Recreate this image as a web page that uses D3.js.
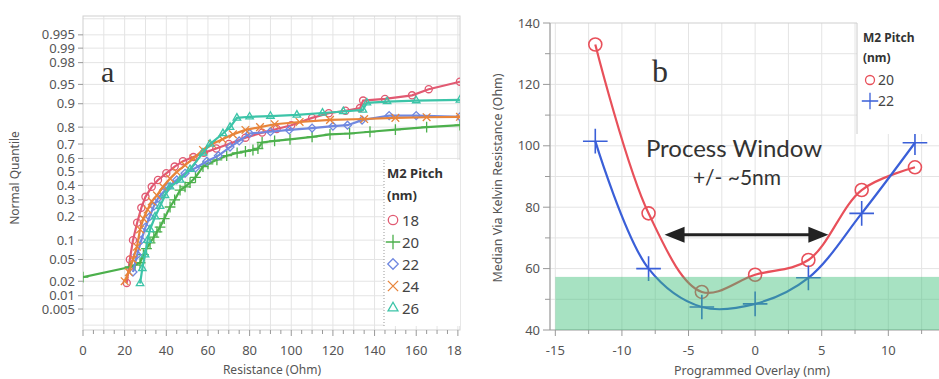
<!DOCTYPE html>
<html>
<head>
<meta charset="utf-8">
<script src="https://cdn.jsdelivr.net/npm/d3@7"></script>
<style>
body { margin: 0; background: #fff; }
svg { display: block; font-family: "Noto Sans", "Open Sans", sans-serif; }
</style>
</head>
<body>
<svg id="chart" width="939" height="379"></svg>
<script>
// ---- panel a: normal quantile plot, [resistance, quantile] ----
var pitch18 = [[21,0.0185],[22.5,0.05],[24,0.1],[26,0.17],[28,0.25],[30,0.32],[33,0.39],[36,0.44],[40,0.49],[44,0.54],[48,0.58],[53,0.61],[58,0.64],[64,0.67],[70,0.70],[78,0.74],[86,0.77],[93,0.79],[100,0.81],[110,0.845],[118,0.865],[126,0.875],[133,0.885],[134.5,0.91],[145,0.915],[158,0.925],[166,0.94],[181,0.955]];
var pitch20 = [[0,0.024],[22.6,0.037],[25,0.04],[27.4,0.044],[29,0.06],[30.5,0.075],[32.2,0.091],[34,0.11],[35.5,0.13],[37,0.15],[39,0.19],[41.8,0.255],[44,0.30],[46.6,0.366],[49,0.39],[51.4,0.42],[54,0.46],[57.6,0.54],[60,0.56],[64.3,0.59],[69,0.62],[74,0.64],[78,0.65],[81.6,0.66],[84,0.67],[86,0.71],[92,0.72],[99.4,0.73],[110,0.745],[118.6,0.76],[128,0.765],[137.8,0.775],[150,0.787],[165,0.80],[181,0.81]];
var pitch22 = [[24,0.03],[26,0.06],[28,0.1],[30,0.15],[32,0.2],[34,0.26],[36,0.31],[38.4,0.35],[41,0.39],[45,0.44],[49,0.49],[54,0.53],[59.5,0.58],[65,0.62],[70.6,0.68],[75,0.72],[80,0.765],[90,0.775],[99,0.785],[110,0.795],[120,0.805],[127,0.81],[134,0.835],[147,0.855],[160,0.855],[181,0.85]];
var pitch24 = [[20,0.02],[22,0.03],[24,0.05],[25.9,0.08],[27.4,0.14],[29,0.19],[31,0.24],[33,0.29],[35.5,0.33],[38.4,0.39],[41.8,0.45],[45,0.5],[49,0.55],[53,0.6],[57.6,0.66],[62,0.7],[67,0.73],[72,0.76],[78,0.785],[85,0.8],[92,0.815],[104,0.826],[118.6,0.836],[135,0.84],[150,0.845],[165,0.848],[181,0.85]];
var pitch26 = [[27.4,0.018],[28.5,0.035],[29.8,0.06],[31,0.1],[32.2,0.14],[34.6,0.2],[37,0.26],[39.4,0.33],[41.8,0.39],[46.6,0.44],[51.4,0.52],[57.6,0.64],[61,0.7],[67.2,0.765],[70.6,0.80],[73.9,0.845],[80,0.85],[90,0.853],[102.7,0.858],[115,0.866],[125,0.872],[134.4,0.878],[136.3,0.903],[146,0.907],[160,0.91],[181,0.912]];
var pitchNames = ["18", "20", "22", "24", "26"];
var quantileTicks = [0.005, 0.01, 0.02, 0.05, 0.1, 0.2, 0.3, 0.4, 0.5, 0.6, 0.7, 0.8, 0.9, 0.95, 0.98, 0.99, 0.995];
var resistanceTicks = [0, 20, 40, 60, 80, 100, 120, 140, 160, 180];

// ---- panel b: median via resistance vs programmed overlay ----
var overlay = [-12, -8, -4, 0, 4, 8, 12];
var res20 = [133, 78, 52.4, 58, 62.8, 85.6, 93];
var res22 = [101.5, 60, 47.5, 48.5, 57, 78, 101];
var overlayTicks = [-15, -10, -5, 0, 5, 10];
var viaTicks = [40, 60, 80, 100, 120, 140];
var windowX = [-15, 15], windowY = [40, 57.3];
var arrowX = [-6.8, 5.5], arrowY = 71;

var colorsA = ["#e15a72", "#4cb04c", "#7088e0", "#e8843a", "#3cc4a8"];
var symbolsA = [d3.symbolCircle, d3.symbolPlus, d3.symbolDiamond2, d3.symbolTimes, d3.symbolTriangle2];

// inverse normal CDF (Acklam)
function probit(p) {
    var a = [-39.6968302866538, 220.946098424521, -275.928510446969, 138.357751867269, -30.6647980661472, 2.50662827745924];
    var b = [-54.4760987982241, 161.585836858041, -155.698979859887, 66.8013118877197, -13.2806815528857];
    var c = [-0.00778489400243029, -0.322396458041136, -2.40075827716184, -2.54973253934373, 4.37466414146497, 2.93816398269878];
    var d = [0.00778469570904146, 0.32246712907004, 2.445134137143, 3.75440866190742];
    var q, r;
    if (p < 0.02425) {
        q = Math.sqrt(-2 * Math.log(p));
        return (((((c[0]*q+c[1])*q+c[2])*q+c[3])*q+c[4])*q+c[5]) / ((((d[0]*q+d[1])*q+d[2])*q+d[3])*q+1);
    } else if (p > 1 - 0.02425) {
        q = Math.sqrt(-2 * Math.log(1 - p));
        return -(((((c[0]*q+c[1])*q+c[2])*q+c[3])*q+c[4])*q+c[5]) / ((((d[0]*q+d[1])*q+d[2])*q+d[3])*q+1);
    }
    q = p - 0.5; r = q * q;
    return (((((a[0]*r+a[1])*r+a[2])*r+a[3])*r+a[4])*r+a[5])*q / (((((b[0]*r+b[1])*r+b[2])*r+b[3])*r+b[4])*r+1);
}

var svg = d3.select("#chart");
var defs = svg.append("defs");
defs.append("clipPath").attr("id", "clipA").append("rect").attr("x", 0).attr("y", 0).attr("width", 462).attr("height", 379);
defs.append("clipPath").attr("id", "plotA").append("rect").attr("x", 83).attr("y", 16).attr("width", 377).attr("height", 314);
defs.append("clipPath").attr("id", "plotB").append("rect").attr("x", 550).attr("y", 23).attr("width", 389).attr("height", 307);

// ================= panel a =================
var xA = d3.scaleLinear().domain([0, 181.5]).range([83, 461]);
var zA = d3.scaleLinear().domain([-2.97, 2.93]).range([330, 16]);
function yA(p) { return zA(probit(p)); }

var gA = svg.append("g").attr("clip-path", "url(#clipA)");

gA.append("g").selectAll("line.vg")
    .data(d3.range(10, 181, 10))
    .enter().append("line")
    .attr("x1", d => xA(d)).attr("x2", d => xA(d))
    .attr("y1", 16).attr("y2", 330)
    .attr("stroke", "#e4e4e4");

gA.append("g").selectAll("line.hg")
    .data(quantileTicks.concat([0.002, 0.998]))
    .enter().append("line")
    .attr("x1", 83).attr("x2", 460)
    .attr("y1", d => yA(d)).attr("y2", d => yA(d))
    .attr("stroke", "#e4e4e4");

gA.append("rect")
    .attr("x", 83).attr("y", 16).attr("width", 377).attr("height", 314)
    .attr("fill", "none").attr("stroke", "#cfcfcf");

var seriesA = [pitch18, pitch20, pitch22, pitch24, pitch26];
var lineA = d3.line().x(d => xA(d[0])).y(d => yA(d[1]));
var dataA = gA.append("g").attr("clip-path", "url(#plotA)");

seriesA.forEach(function (s, i) {
    dataA.append("path")
        .datum(s)
        .attr("fill", "none")
        .attr("stroke", colorsA[i])
        .attr("stroke-width", 2.2)
        .attr("d", lineA);
    dataA.selectAll("path.m" + i)
        .data(s)
        .enter().append("path")
        .attr("class", "m" + i)
        .attr("transform", d => "translate(" + xA(d[0]) + "," + yA(d[1]) + ")")
        .attr("d", d3.symbol().type(symbolsA[i]).size(40))
        .attr("fill", "none")
        .attr("stroke", colorsA[i])
        .attr("stroke-width", 1.3);
});

// axes a
gA.append("g").selectAll("line.yt")
    .data(quantileTicks)
    .enter().append("line")
    .attr("x1", 78).attr("x2", 83)
    .attr("y1", d => yA(d)).attr("y2", d => yA(d))
    .attr("stroke", "#999");
gA.append("g").selectAll("text")
    .data(quantileTicks)
    .enter().append("text")
    .attr("x", 75).attr("y", d => yA(d) + 4.5)
    .attr("text-anchor", "end")
    .attr("font-size", 13)
    .attr("fill", "#555")
    .text(d => d);

gA.append("g").selectAll("line.xt")
    .data(d3.range(0, 181, 5))
    .enter().append("line")
    .attr("x1", d => xA(d)).attr("x2", d => xA(d))
    .attr("y1", 330).attr("y2", d => d % 20 === 0 ? 336 : 334)
    .attr("stroke", "#999");
gA.append("g").selectAll("text")
    .data(resistanceTicks)
    .enter().append("text")
    .attr("x", d => xA(d)).attr("y", 355)
    .attr("text-anchor", "middle")
    .attr("font-size", 13)
    .attr("fill", "#555")
    .text(d => d);

gA.append("text")
    .attr("x", 272).attr("y", 374)
    .attr("text-anchor", "middle")
    .attr("font-size", 12)
    .attr("fill", "#555")
    .text("Resistance (Ohm)");
gA.append("text")
    .attr("transform", "translate(19,178) rotate(-90)")
    .attr("text-anchor", "middle")
    .attr("font-size", 12)
    .attr("fill", "#555")
    .text("Normal Quantile");

gA.append("text")
    .attr("x", 101).attr("y", 82)
    .attr("font-family", "Liberation Serif, serif")
    .attr("font-size", 30)
    .attr("fill", "#333")
    .text("a");

// legend a
var legA = gA.append("g");
legA.append("rect").attr("x", 384).attr("y", 160).attr("width", 76).attr("height", 166).attr("fill", "#fff");
legA.append("line").attr("x1", 384).attr("x2", 384).attr("y1", 160).attr("y2", 326)
    .attr("stroke", "#999").attr("stroke-dasharray", "1,2");
legA.append("text").attr("x", 387).attr("y", 178).attr("font-size", 13).attr("font-weight", "bold").attr("fill", "#333").text("M2 Pitch");
legA.append("text").attr("x", 387).attr("y", 200).attr("font-size", 13).attr("font-weight", "bold").attr("fill", "#333").text("(nm)");
pitchNames.forEach(function (n, i) {
    var y = 220 + i * 22;
    legA.append("path")
        .attr("transform", "translate(393," + y + ")")
        .attr("d", d3.symbol().type(symbolsA[i]).size(70))
        .attr("fill", "none").attr("stroke", colorsA[i]).attr("stroke-width", 1.3);
    legA.append("text").attr("x", 402).attr("y", y + 5.5).attr("font-size", 15).attr("fill", "#444").text(n);
});

// ================= panel b =================
var xB = d3.scaleLinear().domain([-15.4, 14]).range([550, 941.6]);
var yB = d3.scaleLinear().domain([40, 140]).range([330, 23]);
var gB = svg.append("g");

gB.append("g").selectAll("line")
    .data(d3.range(-15, 14, 2.5))
    .enter().append("line")
    .attr("x1", d => xB(d)).attr("x2", d => xB(d))
    .attr("y1", 23).attr("y2", 330)
    .attr("stroke", "#e4e4e4");
gB.append("g").selectAll("line")
    .data(d3.range(50, 140, 10))
    .enter().append("line")
    .attr("x1", 550).attr("x2", 939)
    .attr("y1", d => yB(d)).attr("y2", d => yB(d))
    .attr("stroke", "#e4e4e4");
gB.append("path")
    .attr("d", "M550,330V23H939")
    .attr("fill", "none").attr("stroke", "#cfcfcf");
gB.append("line").attr("x1", 550).attr("x2", 939).attr("y1", 330).attr("y2", 330).attr("stroke", "#999");
gB.append("line").attr("x1", 550).attr("x2", 550).attr("y1", 23).attr("y2", 330).attr("stroke", "#999");

var curveB = d3.line().curve(d3.curveCatmullRom.alpha(0.5));
var ptsB20 = overlay.map((o, i) => [xB(o), yB(res20[i])]);
var ptsB22 = overlay.map((o, i) => [xB(o), yB(res22[i])]);
var dataB = gB.append("g").attr("clip-path", "url(#plotB)");
dataB.append("path").attr("d", curveB(ptsB20)).attr("fill", "none").attr("stroke", "#e8505a").attr("stroke-width", 2.2);
dataB.append("path").attr("d", curveB(ptsB22)).attr("fill", "none").attr("stroke", "#3a5fd8").attr("stroke-width", 2.2);
dataB.selectAll("circle.r20")
    .data(ptsB20).enter().append("circle")
    .attr("cx", d => d[0]).attr("cy", d => d[1]).attr("r", 6.5)
    .attr("fill", "none").attr("stroke", "#e8505a").attr("stroke-width", 1.6);
dataB.selectAll("path.r22")
    .data(ptsB22).enter().append("path")
    .attr("transform", d => "translate(" + d[0] + "," + d[1] + ")")
    .attr("d", d3.symbol().type(d3.symbolPlus).size(200))
    .attr("fill", "none").attr("stroke", "#3a5fd8").attr("stroke-width", 1.6);

// process window band (drawn on top, translucent)
gB.append("rect")
    .attr("x", xB(windowX[0])).attr("y", yB(windowY[1]))
    .attr("width", xB(windowX[1]) - xB(windowX[0]))
    .attr("height", yB(windowY[0]) - yB(windowY[1]))
    .attr("fill", "#3cbf78").attr("opacity", 0.45);

// arrow
var ay = yB(arrowY), ax0 = xB(arrowX[0]), ax1 = xB(arrowX[1]);
gB.append("line").attr("x1", ax0 + 15).attr("x2", ax1 - 15).attr("y1", ay).attr("y2", ay)
    .attr("stroke", "#222").attr("stroke-width", 3);
gB.append("path").attr("d", "M" + ax0 + "," + ay + "l20,-8v16z").attr("fill", "#222");
gB.append("path").attr("d", "M" + ax1 + "," + ay + "l-20,-8v16z").attr("fill", "#222");

gB.append("text").attr("x", 734).attr("y", 157).attr("text-anchor", "middle")
    .attr("font-family", "Lato, sans-serif").attr("font-size", 24).attr("fill", "#333").text("Process Window");
gB.append("text").attr("x", 737).attr("y", 185).attr("text-anchor", "middle")
    .attr("font-family", "Lato, sans-serif").attr("font-size", 21).attr("fill", "#333").text("+/- ~5nm");

gB.append("text").attr("x", 652).attr("y", 82)
    .attr("font-family", "Liberation Serif, serif").attr("font-size", 32).attr("fill", "#333").text("b");

// axes b
gB.append("g").selectAll("line")
    .data(d3.range(-15, 14, 2.5))
    .enter().append("line")
    .attr("x1", d => xB(d)).attr("x2", d => xB(d))
    .attr("y1", 330).attr("y2", d => d % 5 === 0 ? 336 : 334)
    .attr("stroke", "#999");
gB.append("g").selectAll("text")
    .data(overlayTicks).enter().append("text")
    .attr("x", d => xB(d)).attr("y", 355)
    .attr("text-anchor", "middle").attr("font-size", 13).attr("fill", "#555")
    .text(d => d < 0 ? "-" + Math.abs(d) : d);
gB.append("g").selectAll("line")
    .data(d3.range(40, 141, 10))
    .enter().append("line")
    .attr("x1", d => d % 20 === 0 ? 543 : 545).attr("x2", 550)
    .attr("y1", d => yB(d)).attr("y2", d => yB(d))
    .attr("stroke", "#999");
gB.append("g").selectAll("text")
    .data(viaTicks).enter().append("text")
    .attr("x", 540).attr("y", d => yB(d) + 4.5)
    .attr("text-anchor", "end").attr("font-size", 13).attr("fill", "#555")
    .text(d => d);
gB.append("text").attr("x", 752).attr("y", 375).attr("text-anchor", "middle")
    .attr("font-size", 12.5).attr("fill", "#555").text("Programmed Overlay (nm)");
gB.append("text").attr("transform", "translate(502,178) rotate(-90)").attr("text-anchor", "middle")
    .attr("font-size", 12.5).attr("fill", "#555").text("Median Via Kelvin Resistance (Ohm)");

// legend b
var legB = gB.append("g");
legB.append("rect").attr("x", 857).attr("y", 18).attr("width", 82).attr("height", 116).attr("fill", "#fff");
legB.append("path").attr("d", "M857,23V134").attr("stroke", "#ccc");
legB.append("text").attr("x", 863).attr("y", 42).attr("font-size", 12).attr("font-weight", "bold").attr("fill", "#333").text("M2 Pitch");
legB.append("text").attr("x", 863).attr("y", 62).attr("font-size", 12).attr("font-weight", "bold").attr("fill", "#333").text("(nm)");
legB.append("circle").attr("cx", 870).attr("cy", 80).attr("r", 4.5).attr("fill", "none").attr("stroke", "#e8505a").attr("stroke-width", 1.3);
legB.append("text").attr("x", 878).attr("y", 85).attr("font-size", 14).attr("fill", "#444").text("20");
legB.append("path").attr("transform", "translate(870,101)").attr("d", d3.symbol().type(d3.symbolPlus).size(90))
    .attr("fill", "none").attr("stroke", "#3a5fd8").attr("stroke-width", 1.3);
legB.append("text").attr("x", 878).attr("y", 106).attr("font-size", 14).attr("fill", "#444").text("22");
</script>
</body>
</html>
